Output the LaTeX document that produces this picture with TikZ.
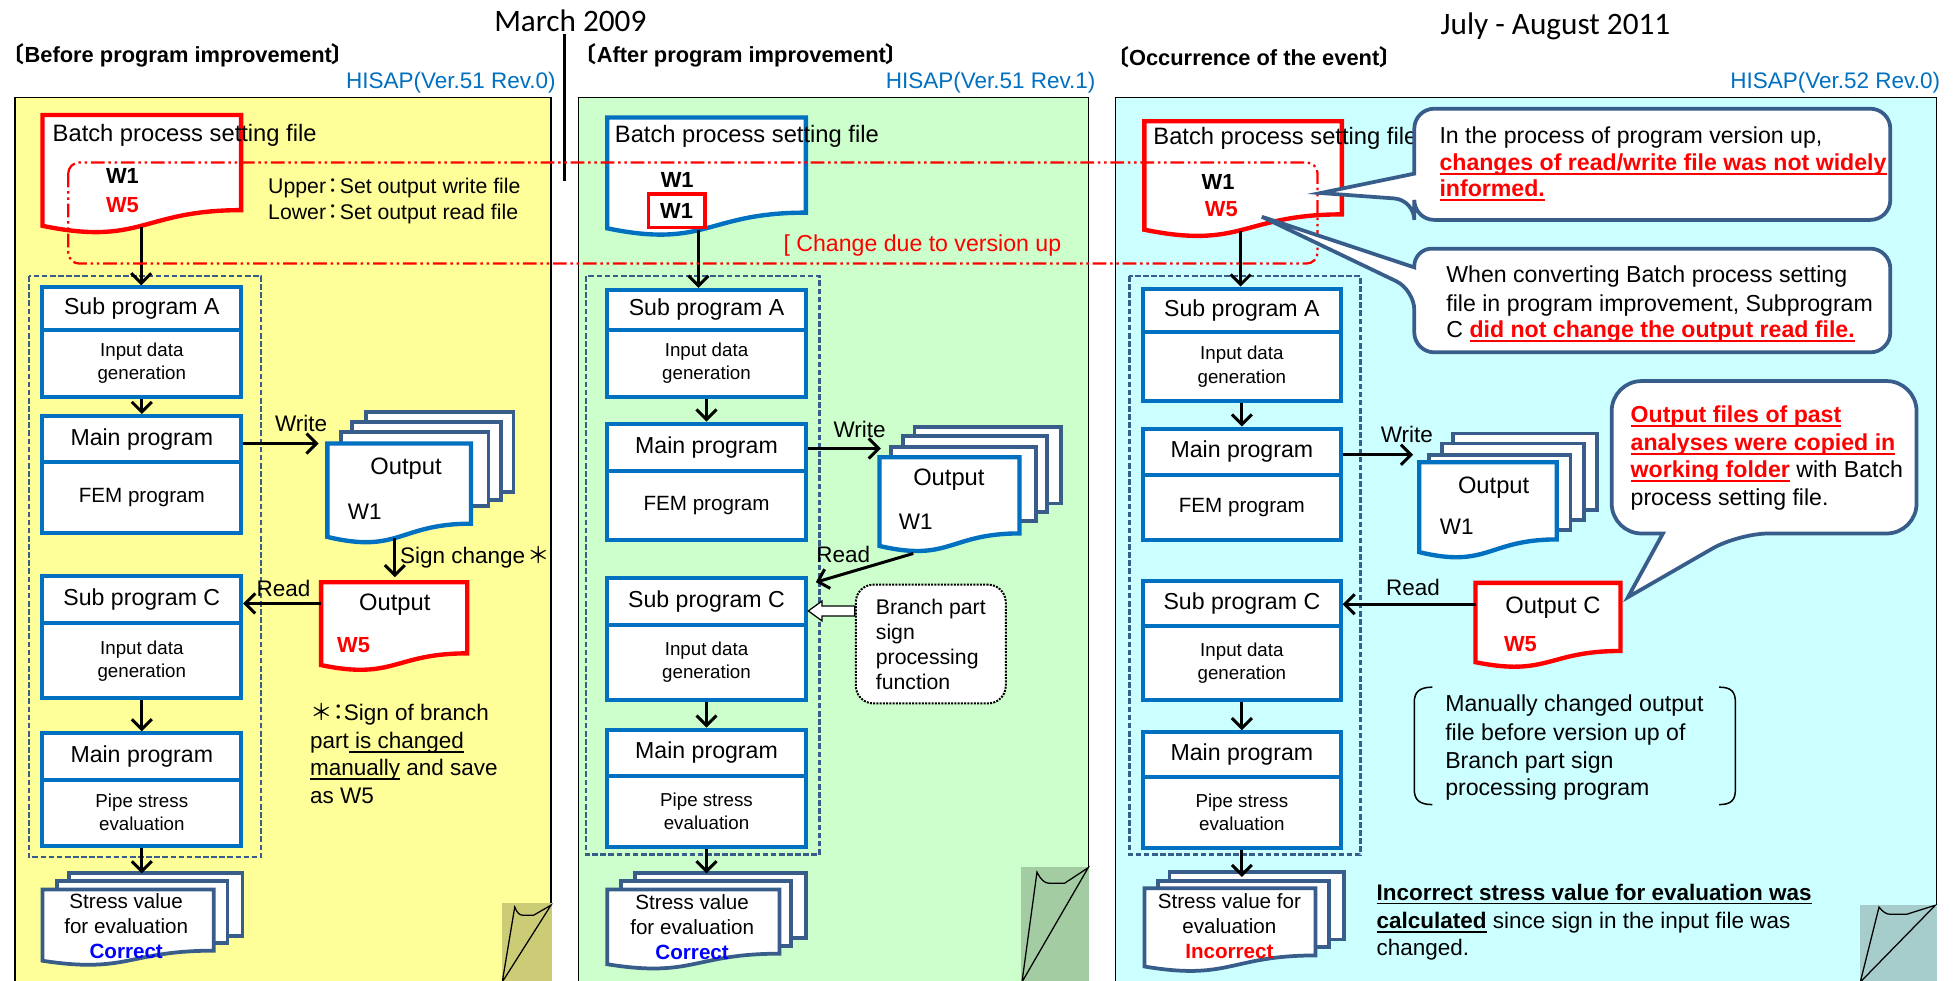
\documentclass[tikz,border=0pt]{standalone}
\usepackage{fontspec}
\setmainfont{Liberation Sans}
\newfontfamily\cjkfont{Noto Sans CJK JP}
\newfontfamily\calfont{Carlito}
\newcommand{\ulx}[1]{\setbox0=\hbox{#1}\rlap{\vrule width\wd0 height -2pt depth 3.4pt}\box0\relax}
\usetikzlibrary{arrows.meta}
\definecolor{pyel}{HTML}{FFFF99}
\definecolor{pgrn}{HTML}{CCFFCC}
\definecolor{pcyn}{HTML}{CCFFFF}
\definecolor{dyel}{HTML}{CCCC77}
\definecolor{dgrn}{HTML}{A3CCA3}
\definecolor{dcyn}{HTML}{A6CCCC}
\definecolor{boxblue}{HTML}{0070C0}
\definecolor{stackblue}{HTML}{385D8A}
\definecolor{hired}{HTML}{FF0000}
\definecolor{okblue}{HTML}{0000FF}
\newcommand{\fsz}[2]{\fontsize{#1}{#2}\selectfont}
\newcommand{\docshape}[5][]{%
 \draw[#1] (#2,#3) -- (#4,#3) -- (#4,{#3+0.802*#5}) .. controls ({(#2+#4)/2},{#3+0.802*#5}) and ({(#2+#4)/2},{#3+1.107*#5}) .. (#2,{#3+0.934*#5}) -- cycle;}
\tikzset{
  panelbox/.style={draw=black, line width=1pt},
  grp/.style={draw=stackblue, line width=1.8pt, dash pattern=on 4.5pt off 2pt},
  pbox/.style={draw=boxblue, line width=3.2pt, fill=white, inner sep=0pt, align=center, font={\fsz{18.5}{21}}},
  pbody/.style={pbox, font={\fsz{15}{18.5}}},
  docred/.style={draw=hired, line width=3.5pt, fill=white},
  docblue/.style={draw=boxblue, line width=3.5pt, fill=white},
  pg/.style={draw=stackblue, line width=3pt, fill=white},
  arr/.style={draw=black, line width=2.4pt, -{Straight Barb[length=8pt,width=16pt]}},
  lbl/.style={inner sep=0pt, font={\fsz{18}{21}}},
  txt/.style={inner sep=0pt, anchor=base west, font={\fsz{18.5}{21}}},
  callbox/.style={draw=stackblue, line width=3pt, fill=white},
  curl/.style={draw=black, line width=1pt},
  wbold/.style={inner sep=0pt, font={\fsz{17.5}{20}\bfseries}},
  stk/.style={inner sep=0pt, align=center, font={\fsz{16.5}{20}}},
  head/.style={anchor=west, inner sep=0pt, font={\fsz{17.5}{20}\bfseries}},
}
\begin{document}
\begin{tikzpicture}[x=1pt,y=-1pt]
\useasboundingbox (0,0) rectangle (1568,785);
\fill[white] (0,0) rectangle (1568,785);
% panels
\draw[panelbox, fill=pyel] (12,78) rectangle (441,800);
\draw[panelbox, fill=pgrn] (463,78) rectangle (871,800);
\draw[panelbox, fill=pcyn] (893,78) rectangle (1550,800);
% page curls
\fill[dyel] (402,723) rectangle (441.5,786);
\draw[curl, fill=dyel] (402,786) -- (412,726) .. controls (414,731) and (416,732.6) .. (419,732.6) -- (427,732.6) -- (441,724.5) -- cycle;
\fill[dgrn] (817,694) rectangle (871.5,786);
\draw[curl, fill=dgrn] (818,786) -- (830,698) .. controls (833,704) and (836,707) .. (840,707) -- (852,707) -- (871,694.5) -- cycle;
\fill[dcyn] (1489,724) rectangle (1550.5,786);
\draw[curl, fill=dcyn] (1489,786) -- (1504,726) .. controls (1507,730) and (1510,731.8) .. (1513,731.8) -- (1526,731.8) -- (1549,724.6) -- cycle;

% headings
\node[font={\calfont\fsz{25}{28}}, inner sep=0pt] (d1) at (456.5,17) {March 2009};
\node[font={\calfont\fsz{25}{28}}, inner sep=0pt] (d2) at (1245,21) {July - August 2011};
\draw[line width=2pt] (452,27) -- (452,145);
\node[head] (h1) at (2,44) {{\cjkfont 〔}Before program improvement{\cjkfont 〕}};
\node[head] (h2) at (460,44) {{\cjkfont 〔}After program improvement{\cjkfont 〕}};
\node[head] (h3) at (886,46) {{\cjkfont 〔}Occurrence of the event{\cjkfont 〕}};
\node[lbl, anchor=east, text=boxblue] (v1) at (445,66.5) {HISAP(Ver.51 Rev.0)};
\node[lbl, anchor=east, text=boxblue] (v2) at (877,66.5) {HISAP(Ver.51 Rev.1)};
\node[lbl, anchor=east, text=boxblue] (v3) at (1553,66.5) {HISAP(Ver.52 Rev.0)};

% group frames
\draw[grp] (23,221) rectangle (209,686);
\draw[grp] (469,221) rectangle (656,684);
\draw[grp] (904,221) rectangle (1089,684);

% ===== Panel 1 =====
\docshape[docred]{34}{92}{193}{95}
\node[txt, font={\fsz{19}{22}}] (bt1) at (42,113) {Batch process setting file};
\node[wbold] (bw11) at (98,141) {W1};
\node[wbold, text=hired] (bw51) at (98,164) {W5};
\node[txt, font={\fsz{17}{21}}] (up1) at (214.5,155) {Upper\kern-3pt{\cjkfont ：}\kern-3pt Set output write file};
\node[txt, font={\fsz{17}{21}}] (lo1) at (214.5,176) {Lower\kern-3pt{\cjkfont ：}\kern-3pt Set output read file};

\node[pbox, minimum width=159pt, minimum height=34pt] (A1t) at (113.5,247) {Sub program A};
\node[pbody, minimum width=159pt, minimum height=54pt] (A1b) at (113.5,291) {Input data\\generation};
\node[pbox, minimum width=159pt, minimum height=37pt] (M1t) at (113.5,351.5) {Main program};
\node[pbody, font={\fsz{16.5}{19}}, minimum width=159pt, minimum height=57pt] (M1b) at (113.5,398.5) {FEM program};
\node[pbox, minimum width=159pt, minimum height=38pt] (C1t) at (113.5,480) {Sub program C};
\node[pbody, minimum width=159pt, minimum height=60pt] (C1b) at (113.5,529) {Input data\\generation};
\node[pbox, minimum width=159pt, minimum height=37pt] (P1t) at (113.5,605.5) {Main program};
\node[pbody, minimum width=159pt, minimum height=53pt] (P1b) at (113.5,650.5) {Pipe stress\\evaluation};

% output W1 stack
\draw[pg] (293,330) rectangle (411,394);
\draw[pg] (282,338) rectangle (401,400);
\draw[pg] (273,346) rectangle (391,405);
\docshape[docblue]{262}{355}{377}{80}
\node[lbl, font={\fsz{19}{22}}] (o1) at (325,375) {Output};
\node[lbl] (o1w) at (292,410) {W1};
% output W5
\docshape[docred]{257}{466}{374}{71}
\node[lbl, font={\fsz{19}{22}}] (o5) at (316,484) {Output};
\node[wbold, text=hired] (o5w) at (283,516) {W5};
% stress stack
\draw[pg] (55,699) rectangle (194,749);
\draw[pg] (45.5,705) rectangle (182,755);
\docshape[pg]{34}{712}{171}{61}
\node[stk] (sv1) at (101,741) {Stress value\\for evaluation\\\textcolor{okblue}{\bfseries Correct}};

\coordinate (b1o) at (113,182);
\draw[arr] (b1o) -- (b1o |- A1t.north);
\draw[arr] (A1b.south) -- (M1t.north);
\draw[arr] (C1b.south) -- (P1t.north);
\coordinate (s1t) at (113.5,699);
\draw[arr] (P1b.south) -- (s1t);
\coordinate (w1e) at (255,355);
\draw[arr] (M1t.east |- w1e) -- (w1e);
\node[lbl] (wl1) at (241,339) {Write};
\coordinate (o1b) at (316,431);
\coordinate (o5t) at (316,462);
\draw[arr] (o1b) -- (o5t);
\node[lbl, anchor=west] (sc1) at (320,446) {Sign change\kern2pt{\cjkfont ＊}};
\coordinate (r1s) at (257,483);
\draw[arr] (r1s) -- (C1t.east |- r1s);
\node[lbl] (rl1) at (227,471) {Read};

\node[txt, font={\fsz{18}{21}}] (n1) at (248,577) {{\cjkfont ＊}\kern-4pt{\cjkfont ：}\kern-5pt Sign of branch};
\node[txt, font={\fsz{18}{21}}] (n2) at (248,599) {part\ulx{\ is changed}};
\node[txt, font={\fsz{18}{21}}] (n3) at (248,621) {\ulx{manually} and save};
\node[txt, font={\fsz{18}{21}}] (n4) at (248,643) {as W5};

% ===== Panel 2 =====
\docshape[docblue]{486}{94}{645}{95}
\node[txt, font={\fsz{19}{22}}] (bt2) at (492,114) {Batch process setting file};
\node[wbold] (bw12) at (542,144) {W1};
\node[wbold, draw=hired, line width=3pt, fill=white, minimum width=45pt, minimum height=27pt] (bw1b) at (541.5,168.5) {W1};
\node[txt, text=hired] (chg) at (627,201) {[ Change due to version up};

\node[pbox, minimum width=159pt, minimum height=32pt] (A2t) at (565.5,248) {Sub program A};
\node[pbody, minimum width=159pt, minimum height=54pt] (A2b) at (565.5,291) {Input data\\generation};
\node[pbox, minimum width=159pt, minimum height=38pt] (M2t) at (565.5,358) {Main program};
\node[pbody, font={\fsz{16.5}{19}}, minimum width=159pt, minimum height=55pt] (M2b) at (565.5,404.5) {FEM program};
\node[pbox, minimum width=159pt, minimum height=37pt] (C2t) at (565.5,481.5) {Sub program C};
\node[pbody, minimum width=159pt, minimum height=60pt] (C2b) at (565.5,530) {Input data\\generation};
\node[pbox, minimum width=159pt, minimum height=37pt] (P2t) at (565.5,602.5) {Main program};
\node[pbody, minimum width=159pt, minimum height=57pt] (P2b) at (565.5,649.5) {Pipe stress\\evaluation};

\draw[pg] (732,342) rectangle (849,403);
\draw[pg] (723,349) rectangle (838,410);
\draw[pg] (713,358) rectangle (829,417);
\docshape[docblue]{704}{366}{816}{76}
\node[lbl, font={\fsz{19}{22}}] (o2) at (759.5,384) {Output};
\node[lbl] (o2w) at (733,418) {W1};

\draw[pg] (508,699) rectangle (645,751);
\draw[pg] (497,705) rectangle (633,757);
\docshape[pg]{486}{712}{624}{64}
\node[stk] (sv2) at (554,742) {Stress value\\for evaluation\\\textcolor{okblue}{\bfseries Correct}};

\node[draw=black, densely dotted, line width=1.6pt, rounded corners=14pt, fill=white, minimum width=120pt, minimum height=95pt, align=left, inner sep=0pt, font={\fsz{17}{20}}] (br) at (745,515.5) {Branch part\\sign\\processing\\function};
\draw[fill=white, line width=1pt] (647,489) -- (658,481) -- (658,485) -- (br.west |- 0,485) -- (br.west |- 0,493) -- (658,493) -- (658,497) -- cycle;

\coordinate (b2o) at (559,184);
\draw[arr] (b2o) -- (b2o |- A2t.north);
\draw[arr] (A2b.south) -- (M2t.north);
\draw[arr] (C2b.south) -- (P2t.north);
\coordinate (s2t) at (565.5,699);
\draw[arr] (P2b.south) -- (s2t);
\coordinate (w2e) at (705,359);
\draw[arr] (M2t.east |- w2e) -- (w2e);
\node[lbl] (wl2) at (688,344) {Write};
\coordinate (r2s) at (731,443);
\coordinate (r2e) at (653,466);
\draw[arr] (r2s) -- (r2e);
\node[lbl] (rl2) at (675,444) {Read};

% ===== Panel 3 =====
\docshape[docred]{916}{97}{1074}{93}
\node[txt, font={\fsz{19}{22}}] (bt3) at (923,116) {Batch process setting file};
\node[wbold] (bw13) at (975,145.5) {W1};
\node[wbold, text=hired] (bw53) at (977.6,167.6) {W5};

\node[pbox, minimum width=158pt, minimum height=35pt] (A3t) at (994,248.5) {Sub program A};
\node[pbody, minimum width=158pt, minimum height=55pt] (A3b) at (994,293.5) {Input data\\generation};
\node[pbox, minimum width=158pt, minimum height=37pt] (M3t) at (994,361.5) {Main program};
\node[pbody, font={\fsz{16.5}{19}}, minimum width=158pt, minimum height=52pt] (M3b) at (994,406) {FEM program};
\node[pbox, minimum width=158pt, minimum height=36pt] (C3t) at (994,483) {Sub program C};
\node[pbody, minimum width=158pt, minimum height=59pt] (C3b) at (994,530.5) {Input data\\generation};
\node[pbox, minimum width=158pt, minimum height=36pt] (P3t) at (994,604) {Main program};
\node[pbody, minimum width=158pt, minimum height=57pt] (P3b) at (994,650.5) {Pipe stress\\evaluation};

\draw[pg] (1163,347) rectangle (1278,408);
\draw[pg] (1154,355) rectangle (1268,416);
\draw[pg] (1144,364) rectangle (1257,424);
\docshape[docblue]{1136}{370}{1246}{77}
\node[lbl, font={\fsz{19}{22}}] (o3) at (1195.5,390) {Output};
\node[lbl] (o3w) at (1166,422) {W1};

\docshape[docred]{1181}{466.5}{1297}{68}
\node[lbl, font={\fsz{19}{22}}] (oc) at (1243,486) {Output C};
\node[wbold, text=hired] (ocw) at (1217,515.6) {W5};

\draw[pg] (936,698) rectangle (1076,752);
\draw[pg] (927,705) rectangle (1064,758);
\docshape[pg]{916}{711}{1053}{67}
\node[stk] (sv3) at (984,741) {Stress value for\\evaluation\\\textcolor{hired}{\bfseries Incorrect}};

\coordinate (b3o) at (993,185);
\draw[arr] (b3o) -- (b3o |- A3t.north);
\draw[arr] (A3b.south) -- (M3t.north);
\draw[arr] (C3b.south) -- (P3t.north);
\coordinate (s3t) at (994,702);
\draw[arr] (P3b.south) -- (s3t);
\coordinate (w3e) at (1131,364);
\draw[arr] (M3t.east |- w3e) -- (w3e);
\node[lbl] (wl3) at (1126,347.5) {Write};
\coordinate (r3s) at (1181,483.6);
\draw[arr] (r3s) -- (C3t.east |- r3s);
\node[lbl] (rl3) at (1131,470) {Read};

% bracket note
\draw[line width=1.2pt] (1146.5,550) .. controls (1136,550) and (1132,554) .. (1132,562) -- (1132,632) .. controls (1132,640) and (1136,644) .. (1146.5,644);
\draw[line width=1.2pt] (1376,550) .. controls (1386,550) and (1389,554) .. (1389,562) -- (1389,632) .. controls (1389,640) and (1386,644) .. (1376,644);
\node[txt] (m1) at (1156.6,569.5) {Manually changed output};
\node[txt] (m2) at (1156.6,592.5) {file before version up of};
\node[txt] (m3) at (1156.6,615) {Branch part sign};
\node[txt] (m4) at (1156.6,636.5) {processing program};

% bottom statement
\node[txt, font={\fsz{18}{21}}] (i1) at (1101.7,720.5) {\bfseries\ulx{Incorrect stress value for evaluation was}};
\node[txt, font={\fsz{18}{21}}] (i2) at (1101.7,743) {{\bfseries\ulx{calculated}} since sign in the input file was};
\node[txt, font={\fsz{18}{21}}] (i3) at (1101.7,764.5) {changed.};

% dash-dot change frame
\draw[hired, line width=1.8pt, dash pattern=on 11pt off 3pt on 2pt off 3pt on 2pt off 3pt, rounded corners=9pt] (54.6,130) rectangle (1054.6,211);

% callouts
\draw[callbox] (1320,87) [rounded corners=16pt] -- (1513,87) -- (1513,176) -- (1132,176) -- (1132,160) [sharp corners] -- (1057,154.5) -- (1132,139) [rounded corners=16pt] -- (1132,87) -- cycle;
\node[txt] (c11) at (1152,114.5) {In the process of program version up,};
\node[txt] (c12) at (1152,136.5) {{\color{hired}\bfseries\ulx{changes of read/write file was not widely}}};
\node[txt] (c13) at (1152,157.5) {{\color{hired}\bfseries\ulx{informed.}}};

\draw[callbox] (1320,199) [rounded corners=16pt] -- (1513,199) -- (1513,282) -- (1132,282) -- (1132,232) [sharp corners] -- (1010,173.5) -- (1132,214) [rounded corners=14pt] -- (1132,199) -- cycle;
\node[txt] (c21) at (1157.5,226.5) {When converting Batch process setting};
\node[txt] (c22) at (1157.5,249.5) {file in program improvement, Subprogram};
\node[txt] (c23) at (1157.5,270.5) {C {\color{hired}\bfseries\ulx{did not change the output read file.}}};

\draw[callbox] (1420,305) [rounded corners=24pt] -- (1534,305) -- (1534,427) -- (1391.5,427) [sharp corners] -- (1303,478) -- (1331,427) [rounded corners=24pt] -- (1290,427) -- (1290,305) -- cycle;
\node[txt] (c31) at (1305,338.5) {{\color{hired}\bfseries\ulx{Output files of past}}};
\node[txt] (c32) at (1305,360.5) {{\color{hired}\bfseries\ulx{analyses were copied in}}};
\node[txt] (c33) at (1305,382.5) {{\color{hired}\bfseries\ulx{working folder}} with Batch};
\node[txt] (c34) at (1305,404.5) {process setting file.};
\end{tikzpicture}
\end{document}
